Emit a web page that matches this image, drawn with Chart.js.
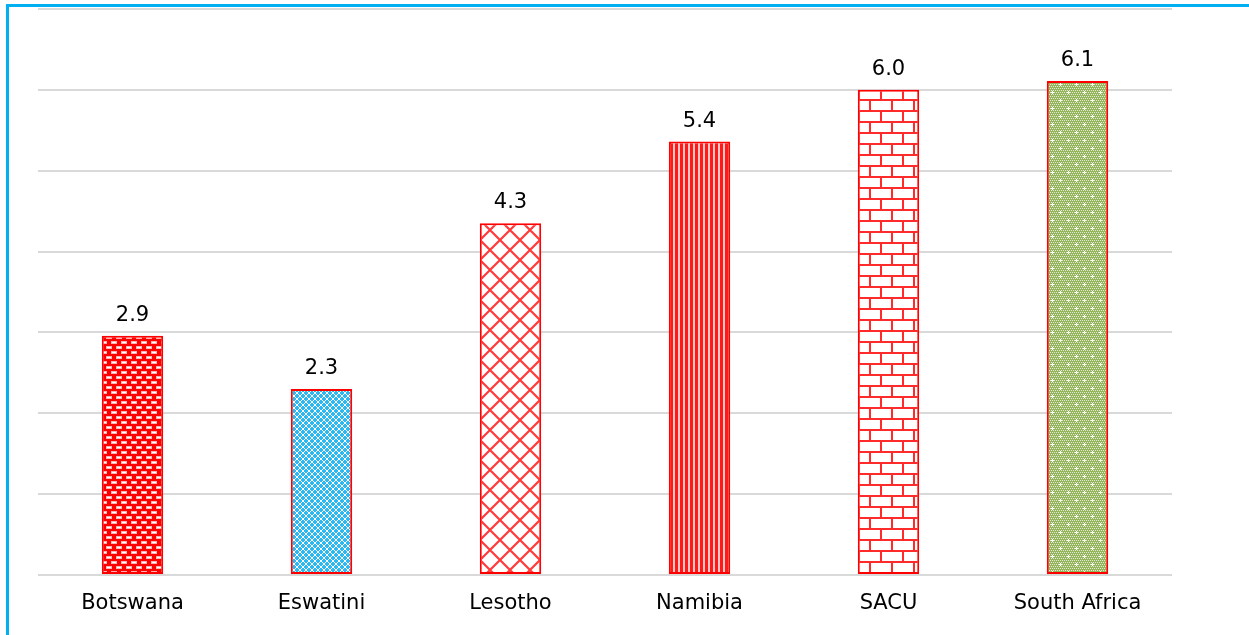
<!DOCTYPE html>
<html>
<head>
<meta charset="utf-8">
<script src="https://cdn.jsdelivr.net/npm/chart.js@4/dist/chart.umd.min.js"></script>
<style>
  html, body { margin: 0; padding: 0; overflow: hidden; background: #fff; }
  #frame { position: absolute; left: 6px; top: 4px; width: 1300px; height: 700px; border: 3px solid #00B0F0; box-sizing: border-box; }
  #wrap { position: absolute; left: 0; top: 0; width: 1249px; height: 635px; }
</style>
</head>
<body>
<div id="frame"></div>
<div id="wrap"><canvas id="chart" width="1249" height="635"></canvas></div>
<script>
const categories = ['Botswana', 'Eswatini', 'Lesotho', 'Namibia', 'SACU', 'South Africa'];
const values = [2.96, 2.30, 4.35, 5.36, 6.00, 6.11];
const valueLabels = ['2.9', '2.3', '4.3', '5.4', '6.0', '6.1'];
const yTicks = [0, 1, 2, 3, 4, 5, 6, 7];

const FONT = '"DejaVu Sans", sans-serif';

// small tiles used as bar fills
function makePattern(w, h, draw) {
  const c = document.createElement('canvas');
  c.width = w; c.height = h;
  const g = c.getContext('2d');
  draw(g, w, h);
  return document.getElementById('chart').getContext('2d').createPattern(c, 'repeat');
}

const patterns = [
  // Botswana: red with small white dashes, staggered
  makePattern(10, 10, (g) => {
    g.fillStyle = '#ff0000'; g.fillRect(0, 0, 10, 10);
    g.fillStyle = '#ffb3b3';
    g.fillRect(1, 1, 6, 3);
    g.fillRect(6, 6, 4, 3); g.fillRect(0, 6, 2, 3);
    g.fillStyle = '#ffffff';
    g.fillRect(2, 2, 4, 1);
    g.fillRect(7, 7, 3, 1); g.fillRect(0, 7, 1, 1);
  }),
  // Eswatini: blue with white diagonal lattice
  makePattern(6, 6, (g) => {
    g.fillStyle = '#2cb9f2'; g.fillRect(0, 0, 6, 6);
    g.fillStyle = '#ffffff';
    for (let i = 0; i < 6; i++) { g.fillRect(i, i, 1, 1); g.fillRect(5 - i, i, 1, 1); }
  }),
  // Lesotho: red diagonal crosshatch on white
  makePattern(20, 20, (g) => {
    g.fillStyle = '#ffffff'; g.fillRect(0, 0, 20, 20);
    g.strokeStyle = '#ff3a3a'; g.lineWidth = 2.2;
    g.beginPath();
    g.moveTo(-2, -2); g.lineTo(22, 22);
    g.moveTo(22, -2); g.lineTo(-2, 22);
    g.stroke();
  }),
  // Namibia: red vertical stripes
  makePattern(5, 4, (g) => {
    g.fillStyle = '#ffc8c8'; g.fillRect(0, 0, 5, 4);
    g.fillStyle = '#ff1a1a'; g.fillRect(0, 0, 3, 4);
  }),
  // SACU: red brick
  makePattern(22, 22, (g) => {
    g.fillStyle = '#ffffff'; g.fillRect(0, 0, 22, 22);
    g.fillStyle = '#ff2a2a';
    g.fillRect(0, 0, 22, 2);
    g.fillRect(0, 11, 22, 2);
    g.fillRect(0, 0, 2, 11);
    g.fillRect(11, 11, 2, 11);
  }),
  // South Africa: green with fine white dots and larger sparkles
  makePattern(16, 16, (g) => {
    g.fillStyle = '#94b55c'; g.fillRect(0, 0, 16, 16);
    g.fillStyle = '#e2ebd3';
    for (let y = 0; y < 16; y += 2) {
      for (let x = (y % 4 === 0 ? 0 : 1); x < 16; x += 2) g.fillRect(x, y, 1, 1);
    }
    g.fillStyle = '#ffffff';
    [[4, 4], [12, 12]].forEach(([x, y]) => {
      g.fillRect(x - 1, y, 3, 1);
      g.fillRect(x, y - 1, 1, 3);
    });
  })
];

const valueLabelPlugin = {
  id: 'valueLabels',
  afterDatasetsDraw(chart) {
    const ctx = chart.ctx;
    const meta = chart.getDatasetMeta(0);
    ctx.save();
    ctx.font = '21px ' + FONT;
    ctx.fillStyle = '#000';
    ctx.textAlign = 'center';
    ctx.textBaseline = 'alphabetic';
    meta.data.forEach((bar, i) => {
      ctx.fillText(valueLabels[i], bar.x, bar.y - 15);
    });
    ctx.restore();
  }
};

new Chart(document.getElementById('chart'), {
  type: 'bar',
  data: {
    labels: categories,
    datasets: [{
      data: values,
      backgroundColor: patterns,
      borderColor: '#ff0000',
      borderWidth: 2,
      borderSkipped: false,
      categoryPercentage: 1,
      barPercentage: 0.325
    }]
  },
  options: {
    responsive: false,
    animation: false,
    layout: { padding: { left: 38, right: 77, top: 9, bottom: 0 } },
    plugins: { legend: { display: false }, tooltip: { enabled: false } },
    scales: {
      x: {
        grid: { display: false, drawTicks: false },
        border: { display: false },
        ticks: { color: '#000', font: { family: FONT, size: 21 }, padding: 16 },
        afterFit: (s) => { s.height = 60; }
      },
      y: {
        min: 0,
        max: 7,
        afterBuildTicks: (s) => { s.ticks = yTicks.map(v => ({ value: v })); },
        ticks: { display: false },
        grid: { color: '#d9d9d9', lineWidth: 2, drawTicks: false },
        border: { display: false },
        afterFit: (s) => { s.width = 0; }
      }
    }
  },
  plugins: [valueLabelPlugin]
});
</script>
</body>
</html>
